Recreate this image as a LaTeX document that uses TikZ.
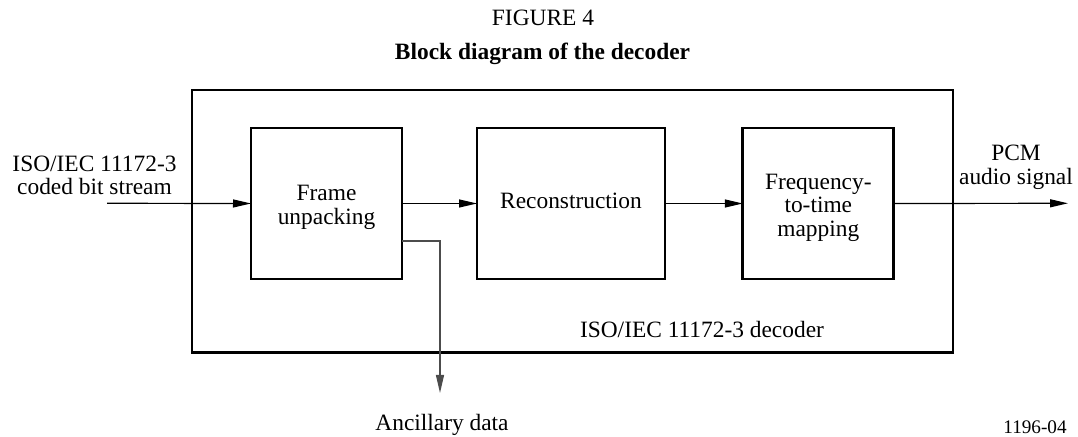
\documentclass[tikz,border=0pt]{standalone}
\usepackage{fontspec}
\setmainfont{Liberation Serif}
\usetikzlibrary{arrows.meta}

\begin{document}
\begin{tikzpicture}[
  x=0.5pt, y=-0.5pt,
  every node/.style={font=\fontsize{11.7}{11.7}\selectfont, inner sep=0pt, outer sep=0pt},
  block/.style={draw, line width=1.4pt, minimum height=75.5pt},
  frame/.style={draw, line width=1.4pt},
  flow/.style={line width=0.6pt, -{Triangle[length=9pt,width=4pt]}},
  side/.style={line width=0.6pt, draw=black!70, -{Triangle[length=9pt,width=4pt]}},
  lbl/.style={align=center},
]
\useasboundingbox (0,0) rectangle (1078,437);

% heading
\node[anchor=base] (fig) at (543,26) {FIGURE 4};
\node[anchor=base, font=\fontsize{11.7}{11.7}\selectfont\bfseries] (title) at (542.5,59.3) {Block diagram of the decoder};

% enclosing decoder frame
\node[frame, minimum width=380.5pt, minimum height=131.35pt] (dec) at (572.5,221.35) {};
\node[anchor=base] (declbl) at (702,338) {ISO/IEC 11172-3 decoder};

% processing blocks
\node[block, minimum width=75.5pt] (unpack) at (326.5,203.5) {};
\node[block, minimum width=94pt] (recon) at (571,203.5) {};
\node[block, minimum width=75.5pt] (f2t) at (818.3,203.5) {};

% block captions
\node[lbl] (unpacktxt) at (326.5,207.5) {Frame\\unpacking};
\node[anchor=base] (recontxt) at (571,208.3) {Reconstruction};
\node[lbl] (f2ttxt) at (818.3,207.5) {Frequency-\\to-time\\mapping};

% external signals
\node[lbl] (inlbl) at (94.5,175.5) {ISO/IEC 11172-3\\coded bit stream};
\node[lbl] (outlbl) at (1016,167.3) {PCM\\audio signal};
\node[anchor=base] (anc) at (442,431) {Ancillary data};
\node[anchor=base, font=\fontsize{9.6}{9.6}\selectfont] (code) at (1035,434) {1196-04};

\coordinate (in) at (107,203.3);
\coordinate (out) at (1068,203.3);
\coordinate (ancout) at (440,393);

% connectors
\draw[flow] (in) -- (unpack.west);
\draw[flow] (unpack.east) -- (recon.west);
\draw[flow] (recon.east) -- (f2t.west);
\draw[flow] (f2t.east) -- (out);
\draw[side] (unpack.east |- 0,241) -| (ancout);
\end{tikzpicture}
\end{document}
